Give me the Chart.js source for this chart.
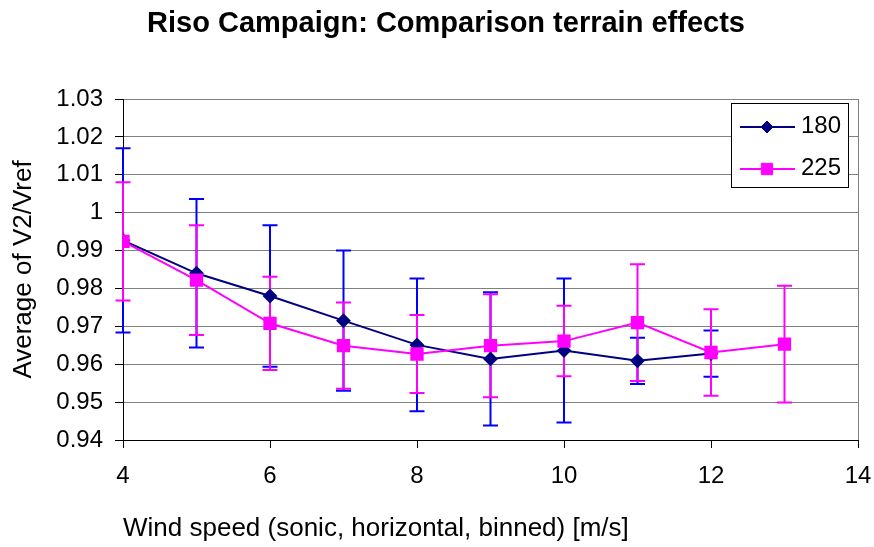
<!DOCTYPE html>
<html>
<head>
<meta charset="utf-8">
<title>Riso Campaign</title>
<script src="https://cdn.jsdelivr.net/npm/chart.js@4.4.0/dist/chart.umd.min.js"></script>
<style>
  html, body { margin: 0; padding: 0; background: #fff; }
  #wrap { width: 874px; height: 547px; }
</style>
</head>
<body>
<div id="wrap"><canvas id="terrainChart" width="874" height="547"></canvas></div>
<script>
// binned wind speeds [m/s]
var speeds180 = [4, 5, 6, 7, 8, 9, 10, 11, 12];
var speeds225 = [4, 5, 6, 7, 8, 9, 10, 11, 12, 13];

// average V2/Vref per bin and the +/- error for each direction sector
var avg180 = [0.9927, 0.9840, 0.9780, 0.9715, 0.9651, 0.9614, 0.9636, 0.9609, 0.9628];
var err180 = [0.0243, 0.0196, 0.0187, 0.0185, 0.0175, 0.0176, 0.0190, 0.0061, 0.0061];
var avg225 = [0.9924, 0.9822, 0.9708, 0.9649, 0.9627, 0.9649, 0.9661, 0.9710, 0.9631, 0.9653];
var err225 = [0.0156, 0.0145, 0.0123, 0.0114, 0.0103, 0.0136, 0.0093, 0.0154, 0.0114, 0.0154];

var seriesNames = ['180', '225'];

var FONT = '"Liberation Sans", Arial, sans-serif';

function points(xs, ys) {
    return xs.map(function (x, i) { return { x: x, y: ys[i] }; });
}

// vertical error bars with caps, drawn under the lines
var errorBars = {
    id: 'errorBars',
    beforeDatasetsDraw: function (chart) {
        var ctx = chart.ctx, xs = chart.scales.x, ys = chart.scales.y;
        ctx.save();
        chart.data.datasets.forEach(function (ds) {
            ctx.strokeStyle = ds.errorColor;
            ctx.lineWidth = 2;
            ds.data.forEach(function (p, i) {
                var e = ds.errorBars[i];
                var px = xs.getPixelForValue(p.x);
                var top = ys.getPixelForValue(p.y + e);
                var bot = ys.getPixelForValue(p.y - e);
                ctx.beginPath();
                ctx.moveTo(px, top); ctx.lineTo(px, bot);
                ctx.moveTo(px - 7.5, top); ctx.lineTo(px + 7.5, top);
                ctx.moveTo(px - 7.5, bot); ctx.lineTo(px + 7.5, bot);
                ctx.stroke();
            });
        });
        ctx.restore();
    }
};

// chart title and the boxed legend inside the plot area
var decorations = {
    id: 'decorations',
    afterDraw: function (chart) {
        var ctx = chart.ctx;
        ctx.save();
        ctx.fillStyle = '#000';
        ctx.font = 'bold 29px ' + FONT;
        ctx.textAlign = 'center';
        ctx.textBaseline = 'alphabetic';
        ctx.fillText('Riso Campaign: Comparison terrain effects', 446, 32);

        var bx = 731, by = 103, bw = 117, bh = 84;
        ctx.fillStyle = '#fff';
        ctx.fillRect(bx, by, bw, bh);
        ctx.strokeStyle = '#000';
        ctx.lineWidth = 1;
        ctx.strokeRect(bx + 0.5, by + 0.5, bw, bh);

        var byName = {};
        chart.data.datasets.forEach(function (ds) { byName[ds.label] = ds; });
        seriesNames.forEach(function (name, i) {
            var ds = byName[name];
            var ly = 127 + i * 42;
            ctx.strokeStyle = ds.borderColor;
            ctx.lineWidth = 2;
            ctx.beginPath();
            ctx.moveTo(740, ly); ctx.lineTo(795, ly);
            ctx.stroke();
            ctx.fillStyle = ds.pointBackgroundColor;
            ctx.strokeStyle = ds.pointBorderColor;
            ctx.lineWidth = 1;
            Chart.helpers.drawPoint(ctx, { pointStyle: ds.pointStyle, radius: ds.pointRadius, rotation: 0, borderWidth: 1 }, 767, ly);
            ctx.fillStyle = '#000';
            ctx.font = '24px ' + FONT;
            ctx.textAlign = 'left';
            ctx.textBaseline = 'middle';
            ctx.fillText(name, 801, ly - 1);
        });
        ctx.restore();
    }
};

var ctx = document.getElementById('terrainChart').getContext('2d');
var terrainChart = new Chart(ctx, {
    type: 'line',
    data: {
        datasets: [{
            label: seriesNames[0],
            data: points(speeds180, avg180),
            errorBars: err180,
            errorColor: '#0000ff',
            borderColor: '#000080',
            backgroundColor: '#000080',
            pointBackgroundColor: '#000080',
            pointBorderColor: '#000080',
            pointStyle: 'rectRot',
            pointRadius: 6,
            borderWidth: 2,
            order: 1
        }, {
            label: seriesNames[1],
            data: points(speeds225, avg225),
            errorBars: err225,
            errorColor: '#ff00ff',
            borderColor: '#ff00ff',
            backgroundColor: '#ff00ff',
            pointBackgroundColor: '#ff00ff',
            pointBorderColor: '#ff00ff',
            pointStyle: 'rect',
            pointRadius: 8,
            borderWidth: 2,
            order: 0
        }]
    },
    options: {
        responsive: false,
        animation: false,
        layout: { padding: { top: 99, right: 0, left: 0, bottom: 0 } },
        plugins: {
            legend: { display: false },
            title: { display: false },
            tooltip: { enabled: false }
        },
        scales: {
            x: {
                type: 'linear',
                min: 4,
                max: 14,
                ticks: { stepSize: 2, color: '#000', padding: 14, font: { family: FONT, size: 24 } },
                grid: {
                    color: function (c) { return c.tick && c.tick.value === 14 ? '#808080' : 'rgba(0,0,0,0)'; },
                    tickColor: '#000',
                    tickLength: 8
                },
                border: { color: '#000', width: 1 },
                title: {
                    display: true,
                    text: 'Wind speed (sonic, horizontal, binned) [m/s]',
                    align: 'start',
                    color: '#000',
                    padding: { top: 0, bottom: 3 },
                    font: { family: FONT, size: 26 }
                },
                afterFit: function (scale) {
                    scale.height = 107;
                    // leave just enough room on the right for the "14" label
                    scale.paddingRight = 16;
                }
            },
            y: {
                min: 0.94,
                max: 1.03,
                ticks: {
                    stepSize: 0.01,
                    color: '#000',
                    padding: 12,
                    font: { family: FONT, size: 24 },
                    callback: function (v) { return String(Math.round(v * 100) / 100); }
                },
                grid: {
                    color: function (c) { return c.index === 0 ? 'rgba(0,0,0,0)' : '#808080'; },
                    tickColor: '#000',
                    tickLength: 8
                },
                border: { color: '#000', width: 1 },
                title: {
                    display: true,
                    text: 'Average of V2/Vref',
                    color: '#000',
                    padding: { top: 8, bottom: 0 },
                    font: { family: FONT, size: 26 }
                },
                afterFit: function (scale) { scale.width = 123; }
            }
        }
    },
    plugins: [errorBars, decorations]
});
</script>
</body>
</html>
